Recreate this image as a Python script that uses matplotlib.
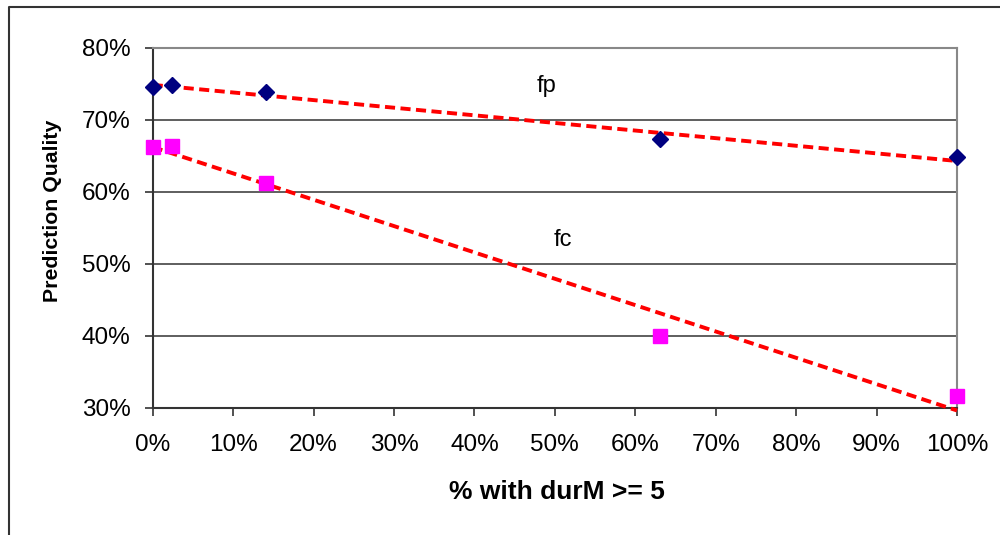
import numpy as np
import matplotlib
matplotlib.use("Agg")
import matplotlib.pyplot as plt
from matplotlib.lines import Line2D

plt.rcParams['font.family'] = ['Liberation Sans', 'DejaVu Sans']

# share of sessions with durM >= 5 (%)
share = [0.0, 2.4, 14.1, 63.1, 100.0]
# prediction quality (%)
fp_quality = [74.6, 74.8, 73.9, 67.3, 64.8]
fc_quality = [66.3, 66.4, 61.2, 40.0, 31.6]

x_ticks = [0, 10, 20, 30, 40, 50, 60, 70, 80, 90, 100]
y_ticks = [30, 40, 50, 60, 70, 80]


def trend(x, y):
    # linear trendline, like the spreadsheet one
    coef = np.polyfit(x, y, 1)
    xs = np.array([min(x), max(x)])
    return xs, np.polyval(coef, xs)


fig = plt.figure(figsize=(10, 5.35), dpi=100)
ax = fig.add_axes([0.1527, 0.2374, 0.8043, 0.6729])

for q in (fp_quality, fc_quality):
    xs, ys = trend(share, q)
    ax.plot(xs, ys, color='#ff0000', lw=2.8, dashes=(2.6, 1.4),
            zorder=3, clip_on=False)

ax.plot(share, fp_quality, ls='none', marker='D', ms=8, color='#000080',
        zorder=4, clip_on=False)
ax.plot(share, fc_quality, ls='none', marker='s', ms=10, color='#ff00ff',
        zorder=4, clip_on=False)

ax.text(48.9, 74.7, 'fp', fontsize=17, ha='center', va='center')
ax.text(51.0, 53.4, 'fc', fontsize=17, ha='center', va='center')

ax.set_xlim(0, 100)
ax.set_ylim(30, 80)
ax.set_xticks(x_ticks)
ax.set_yticks(y_ticks)
ax.set_xticklabels(['%d%%' % v for v in x_ticks], fontsize=17.5)
ax.set_yticklabels(['%d%%' % v for v in y_ticks], fontsize=17.5)
ax.tick_params(axis='x', direction='out', length=6, width=1.2,
               color='#333333', pad=13)
ax.tick_params(axis='y', direction='out', length=6, width=1.2,
               color='#333333', pad=10)

ax.yaxis.grid(True, color='#333333', lw=1.1)
ax.set_axisbelow(True)

ax.spines['left'].set_color('#333333')
ax.spines['bottom'].set_color('#333333')
ax.spines['left'].set_linewidth(1.5)
ax.spines['bottom'].set_linewidth(1.5)
ax.spines['top'].set_color('#888888')
ax.spines['right'].set_color('#888888')
ax.spines['top'].set_linewidth(1.5)
ax.spines['right'].set_linewidth(1.5)

fig.text(0.557, 1 - 492 / 535, '% with durM >= 5', fontsize=19,
         fontweight='bold', ha='center', va='center')
fig.text(0.053, 1 - 211 / 535, 'Prediction Quality', fontsize=15.3,
         fontweight='bold', ha='center', va='center', rotation=90)

# outer chart frame (left and top edges visible)
fig.add_artist(Line2D([0.009, 0.009, 1.0], [0.0, 1 - 7 / 535, 1 - 7 / 535],
                      transform=fig.transFigure, color='#333333', lw=1.5))

fig.savefig('out.png', dpi=100)
